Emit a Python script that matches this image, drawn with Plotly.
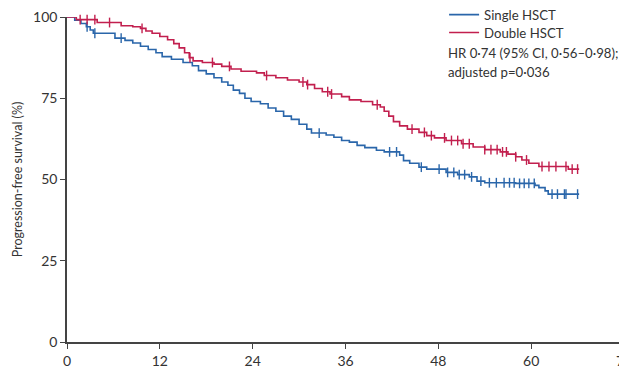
import numpy as np
import plotly.graph_objects as go

# ---- data ----
single_t = [0, 1.0, 1.8, 2.5, 3.0, 3.4, 6.2, 7.5, 8.5, 9.5, 10.5, 11.5, 12.3, 13.5, 15.0, 16.2,
            17.0, 18.0, 19.0, 20.0, 20.8, 21.5, 22.3, 23.0, 23.8, 25.0, 26.0, 27.0, 28.0, 29.0,
            30.0, 31.0, 31.6, 33.5, 34.5, 35.5, 36.5, 37.5, 38.5, 40.0, 41.0, 43.0, 43.5, 44.3,
            45.5, 46.5, 49.0, 50.5, 52.0, 53.0, 54.0, 58.0, 60.5, 61.0, 61.8, 62.2, 66.2]
single_s = [100, 99.0, 98.0, 97.0, 96.0, 95.0, 93.5, 92.8, 92.0, 91.0, 90.0, 89.0, 87.8, 87.0, 86.0, 85.0,
            83.5, 82.5, 81.3, 80.0, 79.0, 77.5, 76.5, 75.0, 74.0, 73.3, 72.0, 71.0, 69.5, 68.5,
            67.0, 65.5, 64.3, 63.7, 63.0, 62.0, 61.5, 60.5, 59.8, 59.0, 58.5, 57.5, 55.8, 55.0,
            53.8, 53.2, 52.2, 51.5, 50.8, 49.5, 49.0, 48.8, 48.2, 47.5, 46.5, 45.5, 45.5]
single_cens = [2.6, 3.6, 7.0, 32.6, 41.7, 42.6, 45.8, 48.1, 49.2, 50.0, 50.7, 51.4, 52.3, 53.5,
               54.6, 55.5, 56.5, 57.2, 57.8, 58.5, 59.1, 59.7, 60.4, 62.7, 63.4, 64.3, 64.5, 66.0]

double_t = [0, 1.2, 3.9, 7.0, 8.5, 9.5, 10.2, 11.0, 12.0, 13.0, 13.8, 14.5, 15.2, 15.8, 16.3, 17.5,
            19.0, 20.0, 21.2, 22.5, 24.5, 25.5, 27.0, 28.5, 30.0, 31.0, 32.0, 33.0, 34.0, 35.5,
            36.5, 38.0, 39.5, 40.5, 41.0, 41.6, 42.2, 43.0, 44.0, 45.5, 46.5, 47.5, 49.0, 51.0,
            52.5, 54.0, 56.0, 57.0, 58.0, 58.8, 59.7, 61.0, 64.8, 66.2]
double_s = [100, 99.2, 98.3, 97.3, 97.0, 96.5, 95.7, 95.0, 94.0, 93.0, 91.8, 90.5, 89.0, 87.5, 86.5, 86.0,
            85.5, 84.8, 84.0, 83.3, 82.8, 82.0, 81.3, 80.6, 80.0, 79.2, 78.0, 77.0, 76.3, 75.5,
            74.5, 74.0, 73.0, 72.3, 71.0, 69.5, 67.8, 66.5, 65.5, 64.5, 63.5, 62.8, 62.0, 61.0,
            60.0, 59.2, 58.5, 57.8, 57.0, 56.0, 55.0, 54.0, 53.2, 53.2]
double_cens = [1.7, 2.6, 3.6, 5.5, 9.7, 15.9, 18.8, 21.0, 25.8, 30.5, 31.1, 33.7, 34.2, 40.1,
               44.6, 46.2, 47.1, 48.8, 49.7, 50.5, 51.2, 52.0, 54.0, 54.8, 55.6, 56.3, 56.8,
               58.0, 59.4, 61.4, 62.3, 63.2, 64.5, 65.3, 66.0]

x_ticks = [0, 12, 24, 36, 48, 60, 72]
y_ticks = [0, 25, 50, 75, 100]

BLUE = "#2a66aa"
RED = "#c21f4e"
FONT = "Lato"
TXT = "#333333"


def step_at(ts, ss, x):
    i = np.searchsorted(np.array(ts), np.array(x), side="right") - 1
    return list(np.array(ss)[i])


fig = go.Figure()
for name, t, s, c, col, lg in [("Single HSCT", single_t, single_s, single_cens, BLUE, "legend"),
                               ("Double HSCT", double_t, double_s, double_cens, RED, "legend2")]:
    fig.add_trace(go.Scatter(x=t, y=s, mode="lines", line=dict(color=col, width=1.6, shape="hv"),
                             name=name, showlegend=True, legend=lg, cliponaxis=False))
    fig.add_trace(go.Scatter(x=c, y=step_at(t, s, c), mode="markers",
                             marker=dict(symbol="line-ns", size=7, line=dict(color=col, width=1.4)),
                             showlegend=False, cliponaxis=False, hoverinfo="skip"))

fig.add_annotation(x=0.68, y=0.889, xref="paper", yref="paper", xanchor="left", yanchor="middle",
                   text="HR 0·74 (95% CI, 0·56–0·98);", showarrow=False,
                   font=dict(family=FONT, size=13.2, color=TXT))
fig.add_annotation(x=0.68, y=0.831, xref="paper", yref="paper", xanchor="left", yanchor="middle",
                   text="adjusted p=0·036", showarrow=False,
                   font=dict(family=FONT, size=13.2, color=TXT))

leg_common = dict(x=0.677, xanchor="left", yanchor="middle", bgcolor="rgba(0,0,0,0)",
                  itemwidth=30, font=dict(family=FONT, size=13.2, color=TXT))

fig.update_layout(
    width=619, height=360,
    margin=dict(l=59, r=3, t=9, b=26, autoexpand=False),
    plot_bgcolor="white", paper_bgcolor="white",
    font=dict(family=FONT, size=14, color=TXT),
    legend=dict(y=1.006, **leg_common),
    legend2=dict(y=0.951, **leg_common),
    xaxis=dict(range=[0, 72], tickvals=x_ticks, ticktext=[str(v) for v in x_ticks],
               showgrid=False, zeroline=False, showline=True, linecolor="#444444", linewidth=1.5,
               ticks="outside", ticklen=5, tickwidth=1.3, tickcolor="#444444", automargin=False,
               ticklabeloverflow="allow"),
    yaxis=dict(range=[0, 100], tickvals=y_ticks, ticktext=[str(v) for v in y_ticks],
               showgrid=False, zeroline=False, showline=True, linecolor="#444444", linewidth=1.5,
               ticks="outside", ticklen=5, tickwidth=1.3, tickcolor="#444444", automargin=False,
               ticklabeloverflow="allow",
               title=dict(text="Progression-free survival (%)", font=dict(family=FONT, size=12.5, color=TXT),
                          standoff=8)),
)

fig.write_html("out.html")
